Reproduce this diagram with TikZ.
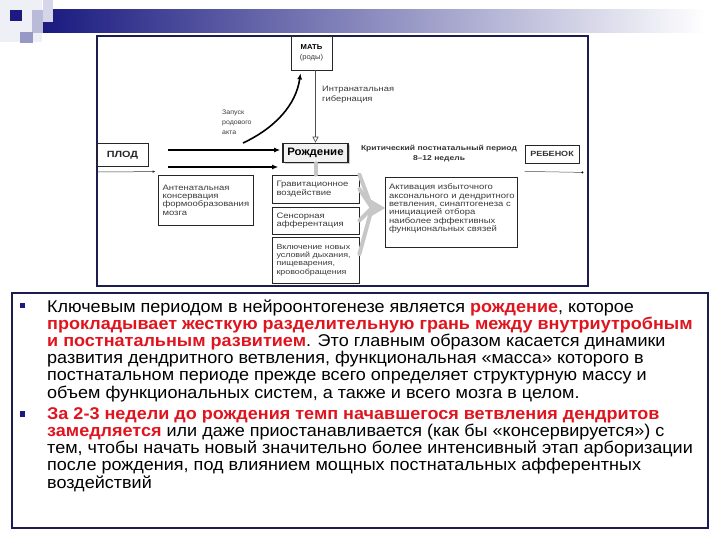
\documentclass[tikz,border=0pt]{standalone}
\usepackage{fontspec}
\setmainfont{Liberation Sans}[FakeStretch=1.06]
\newfontfamily\figfont{Liberation Sans}[FakeStretch=1.2]
\usetikzlibrary{arrows.meta,shadows,calc}
\definecolor{navy}{HTML}{1A1A80}
\definecolor{framec}{HTML}{1C1C50}
\definecolor{redt}{HTML}{E0141E}
\definecolor{scan}{HTML}{3A3A3A}
\definecolor{midbar}{HTML}{9C9CB8}
\newcommand{\rb}[1]{\textcolor{redt}{\textbf{#1}}}
\newcommand{\oneline}[1]{\mbox{#1}}
\tikzset{
 fbox/.style={draw=black!85, line width=0.8pt, inner sep=0pt, font=\figfont\fontsize{7.9}{8.4}\selectfont, text=scan},
 txtline/.style={anchor=base west, inner sep=0pt, font=\fontsize{17}{17}\selectfont},
 lbl/.style={inner sep=0pt, font=\figfont\fontsize{7.8}{10}\selectfont, text=scan, align=left},
 thickarr/.style={line width=1.6pt, -{Latex[length=6pt,width=5pt]}},
 greyarr/.style={line width=4pt, draw=black!22, line cap=round},
}
\begin{document}
\begin{tikzpicture}[x=1pt,y=-1pt]
\useasboundingbox (0,0) rectangle (720,540);
% header decoration
\fill[navy!7] (0,0) rectangle (42,42);
\shade[left color=navy, middle color=midbar, right color=white] (43,10) rectangle (706,33);
\fill[navy!30] (32,10) rectangle (43,33);
\fill[navy!18] (43,0) rectangle (53,22);
\fill[navy] (10,10) rectangle (22,21);
\fill[navy!45] (20,32) rectangle (33,43);
% figure frame
\draw[framec, line width=1.2pt] (97,36) rectangle (588,286);
% nodes
\node[fbox, minimum width=41pt, minimum height=34pt, align=center, font=\fontsize{7.2}{8}\selectfont] (mat) at (311.5,53) {\textcolor{black}{\textbf{МАТЬ}}\\[2pt](роды)};
\node[fbox, line width=1.6pt, fill=black!5, minimum width=65pt, minimum height=19pt, font=\fontsize{10.8}{11}\selectfont\bfseries, text=black, drop shadow={shadow xshift=1.5pt, shadow yshift=-1.5pt, fill=black!40}] (rozh) at (315.5,153) {Рождение};
\node[fbox, minimum width=51pt, minimum height=23pt, font=\figfont\fontsize{9}{9}\selectfont\bfseries, text=black!85] (plod) at (122.5,155) {ПЛОД};
\node[fbox, minimum width=54pt, minimum height=18pt, font=\figfont\fontsize{7.5}{8}\selectfont\bfseries, text=black!80] (reb) at (552,154) {РЕБЕНОК};
\node[fbox, minimum width=95pt, minimum height=50pt, text width=86pt, align=left] (ant) at (205.5,200) {\oneline{Антенатальная}\\\oneline{консервация}\\\oneline{формообразования}\\\oneline{мозга}};
\node[fbox, minimum width=87pt, minimum height=28pt, text width=78pt, align=left] (grav) at (315.5,189) {\oneline{Гравитационное}\\\oneline{воздействие}};
\node[fbox, minimum width=87pt, minimum height=27pt, text width=78pt, align=left] (sens) at (315.5,220.5) {\oneline{Сенсорная}\\\oneline{афферентация}};
\node[fbox, minimum width=87pt, minimum height=46pt, text width=78pt, align=left, font=\figfont\fontsize{7.4}{8.4}\selectfont] (vkl) at (315.5,260) {\oneline{Включение новых}\\\oneline{условий дыхания,}\\\oneline{пищеварения,}\\\oneline{кровообращения}};
\node[fbox, minimum width=132pt, minimum height=70pt, text width=124pt, align=left] (akt) at (451,212) {\oneline{Активация избыточного}\\\oneline{аксонального и дендритного}\\\oneline{ветвления, синаптогенеза с}\\\oneline{инициацией отбора}\\\oneline{наиболее эффективных}\\\oneline{функциональных связей}\\\mbox{}};
% labels
\node[lbl, anchor=north west, font=\fontsize{6.6}{9.8}\selectfont] (zap) at (222,110) {Запуск\\родового\\акта};
\node[lbl, anchor=west] (intr) at (322,95) {Интранатальная\\гибернация};
\node[lbl, align=center, font=\figfont\fontsize{7.1}{9.5}\selectfont\bfseries, text=black!80] (krit) at (439,153.5) {Критический постнатальный период\\8–12 недель};
% connectors
\draw[black!70, line width=0.6pt, -{Triangle[open, length=6pt, width=6pt]}] (rozh.north |- mat.south) -- (rozh.north);
\draw[thickarr] ([xshift=20pt,yshift=5pt]plod.east) -- ([xshift=-2pt,yshift=3pt]rozh.west);
\draw[thickarr] ([xshift=20pt,yshift=-12pt]plod.east) -- ([xshift=-4pt,yshift=-14pt]rozh.west);
\coordinate (zs) at (243,143);
\draw[thickarr] (zs) .. controls (275,128) and (296,105) .. ([xshift=-11pt,yshift=-3pt]mat.south);
\draw[greyarr] (rozh.south) -- (grav.north);
\coordinate (fan) at (372,208);
\draw[greyarr] (grav.north east) -- (fan);
\draw[greyarr] (grav.east) -- (fan);
\draw[greyarr] (sens.east) -- (fan);
\draw[greyarr] ([yshift=6pt]vkl.east) -- (fan);
\fill[black!22] (370,199) -- (385,208) -- (370,217) -- cycle;
\coordinate (lf) at (97,172);
\draw[black!80, line width=0.5pt, -{Latex[length=3pt,width=2.5pt]}] (lf) -- ([xshift=-2pt,yshift=3pt]ant.north west);
\draw[black!70, line width=0.5pt] ([yshift=-8pt]reb.south west) -- ([xshift=3pt,yshift=-9pt]reb.south east) node[circle, fill=black, inner sep=0.8pt] (dotr) {};
% bottom text box
\draw[framec, line width=1.2pt] (12,293) rectangle (708,528);
\fill[navy] (19.5,302.5) rectangle (25,308);
\fill[navy] (19.5,411) rectangle (25,416.5);
\node[txtline] (t1) at (47,312) {Ключевым периодом в нейроонтогенезе является \rb{рождение}, которое};
\node[txtline] (t2) at (47,329.2) {\rb{прокладывает жесткую разделительную грань между внутриутробным}};
\node[txtline] (t3) at (47,346.4) {\rb{и постнатальным развитием}. Это главным образом касается динамики};
\node[txtline] (t4) at (47,363.6) {развития дендритного ветвления, функциональная «масса» которого в};
\node[txtline] (t5) at (47,380.8) {постнатальном периоде прежде всего определяет структурную массу и};
\node[txtline] (t6) at (47,398) {объем функциональных систем, а также и всего мозга в целом.};
\node[txtline] (t7) at (47,419.2) {\rb{За 2-3 недели до рождения темп начавшегося ветвления дендритов}};
\node[txtline] (t8) at (47,436.4) {\rb{замедляется} или даже приостанавливается (как бы «консервируется») с};
\node[txtline] (t9) at (47,453.6) {тем, чтобы начать новый значительно более интенсивный этап арборизации};
\node[txtline] (t10) at (47,470.8) {после рождения, под влиянием мощных постнатальных афферентных};
\node[txtline] (t11) at (47,488) {воздействий};
\end{tikzpicture}
\end{document}
